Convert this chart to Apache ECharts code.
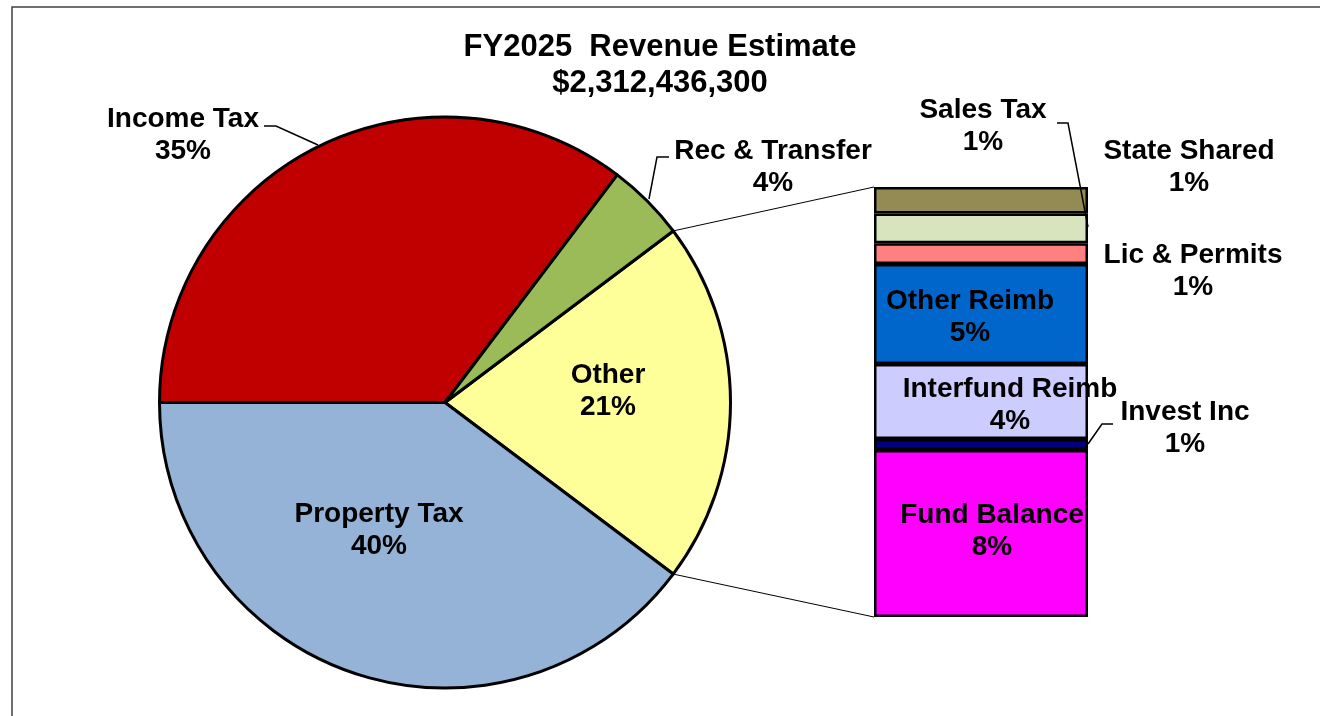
<!DOCTYPE html>
<html>
<head>
<meta charset="utf-8">
<title>FY2025 Revenue Estimate</title>
<script src="https://cdn.jsdelivr.net/npm/echarts@6/dist/echarts.min.js"></script>
<style>
  html, body { margin: 0; padding: 0; background: #fff; }
  #main { width: 1320px; height: 716px; }
</style>
</head>
<body>
<div id="main"></div>
<script>
// share of total revenue, in percent
const pieNames = ['Property Tax', 'Income Tax', 'Rec & Transfer']
const pieValues = [39.75, 35.3, 4.43]
const otherName = 'Other'
// breakdown of "Other", listed top to bottom as in the bar
const barNames = ['Sales Tax', 'State Shared', 'Lic & Permits', 'Other Reimb', 'Interfund Reimb', 'Invest Inc', 'Fund Balance']
const barValues = [1.26, 1.42, 0.99, 4.78, 3.58, 0.52, 7.97]
const titleLines = ['FY2025  Revenue Estimate', '$2,312,436,300']

const colors = {
  'Property Tax': '#95B3D7',
  'Income Tax': '#C00000',
  'Rec & Transfer': '#9BBB59',
  'Other': '#FFFF99',
  'Sales Tax': '#948A54',
  'State Shared': '#D7E4BD',
  'Lic & Permits': '#FF8080',
  'Other Reimb': '#0066CC',
  'Interfund Reimb': '#CCCCFF',
  'Invest Inc': '#000080',
  'Fund Balance': '#FF00FF'
}

// where excel put the labels (centre of the text block)
const labelPos = {
  'Income Tax': [183, 135],
  'Rec & Transfer': [773, 167],
  'Other': [608, 391],
  'Property Tax': [379, 530],
  'Sales Tax': [983, 126],
  'State Shared': [1189, 167],
  'Lic & Permits': [1193, 271],
  'Other Reimb': [970, 317],
  'Interfund Reimb': [1010, 405],
  'Invest Inc': [1185, 428],
  'Fund Balance': [992, 531]
}
// pie leader lines go through the label layout, bar ones are drawn by hand
const leaders = {
  'Income Tax': [[318, 145], [276, 126], [264, 126]],
  'Rec & Transfer': [[649, 199], [657, 157], [669, 157]]
}
const barLeaders = [
  [[1088, 227], [1068, 123], [1057, 123]],
  [[1088, 444], [1102, 424], [1113, 424]]
]

const otherValue = barValues.reduce((a, b) => a + b, 0)
const total = pieValues.reduce((a, b) => a + b, 0) + otherValue
const pct = v => Math.round(v / total * 100) + '%'

const cx = 445
const cy = 402.5
const R = 285.5
const gLeft = 874
const gTop = 187
const gW = 214
const gH = 430
const half = otherValue / total * 180 // other slice is centred on the horizontal

const font = {
  fontFamily: '"Liberation Sans", Arial, sans-serif',
  fontWeight: 'bold',
  fontSize: 28,
  lineHeight: 32,
  color: '#000'
}
const leaderStyle = { color: '#000', width: 1.5 }

function layoutFor (name) {
  const p = labelPos[name]
  const o = { x: p[0], y: p[1], align: 'center', verticalAlign: 'middle' }
  if (leaders[name]) o.labelLinePoints = leaders[name]
  return o
}

const pieData = [{ name: otherName, value: otherValue }]
pieNames.forEach((n, i) => pieData.push({ name: n, value: pieValues[i] }))
pieData.forEach(d => {
  d.itemStyle = { color: colors[d.name] }
  if (leaders[d.name]) {
    d.label = { position: 'outside' }
    d.labelLine = { show: true }
  }
})

const barSeries = barNames.slice().reverse().map(name => {
  const v = barValues[barNames.indexOf(name)]
  return {
    type: 'bar',
    name: name,
    stack: 'other',
    barWidth: '100%',
    data: [v],
    itemStyle: { color: colors[name], borderColor: '#000', borderWidth: 2.5 },
    label: Object.assign({ show: true, position: 'inside', formatter: name + '\n' + pct(v) }, font),
    labelLayout: () => layoutFor(name)
  }
})

const rad = half * Math.PI / 180
const topPt = [cx + R * Math.cos(rad), cy - R * Math.sin(rad)]
const botPt = [cx + R * Math.cos(rad), cy + R * Math.sin(rad)]

const graphics = [
  {
    type: 'rect',
    silent: true,
    shape: { x: 12, y: 7, width: 1400, height: 800 },
    style: { fill: 'none', stroke: '#404040', lineWidth: 1.5 }
  },
  {
    type: 'line',
    silent: true,
    shape: { x1: topPt[0], y1: topPt[1], x2: gLeft, y2: gTop },
    style: { stroke: '#000', lineWidth: 1 }
  },
  {
    type: 'line',
    silent: true,
    shape: { x1: botPt[0], y1: botPt[1], x2: gLeft, y2: gTop + gH },
    style: { stroke: '#000', lineWidth: 1 }
  }
]
barLeaders.forEach(pts => graphics.push({
  type: 'polyline',
  silent: true,
  z: 10,
  shape: { points: pts },
  style: { fill: 'none', stroke: '#000', lineWidth: 1.5 }
}))

const myChart = echarts.init(document.getElementById('main'))
const option = {
  animation: false,
  title: {
    text: titleLines.join('\n'),
    left: 'center',
    top: 24,
    textStyle: Object.assign({}, font, { fontSize: 31, lineHeight: 36 })
  },
  grid: { left: gLeft, top: gTop, width: gW, height: gH },
  xAxis: { type: 'category', show: false, data: [otherName] },
  yAxis: { type: 'value', show: false, min: 0, max: otherValue },
  graphic: graphics,
  series: [
    {
      type: 'pie',
      center: [cx, cy],
      radius: R,
      startAngle: half,
      clockwise: true,
      avoidLabelOverlap: false,
      emphasis: { disabled: true },
      itemStyle: { borderColor: '#000', borderWidth: 3 },
      label: Object.assign({ show: true, position: 'inside', formatter: p => p.name + '\n' + pct(p.value) }, font),
      labelLine: { show: false, length: 10, length2: 10, lineStyle: leaderStyle },
      labelLayout: p => layoutFor(pieData[p.dataIndex].name),
      data: pieData
    }
  ].concat(barSeries)
}
myChart.setOption(option)
</script>
</body>
</html>
